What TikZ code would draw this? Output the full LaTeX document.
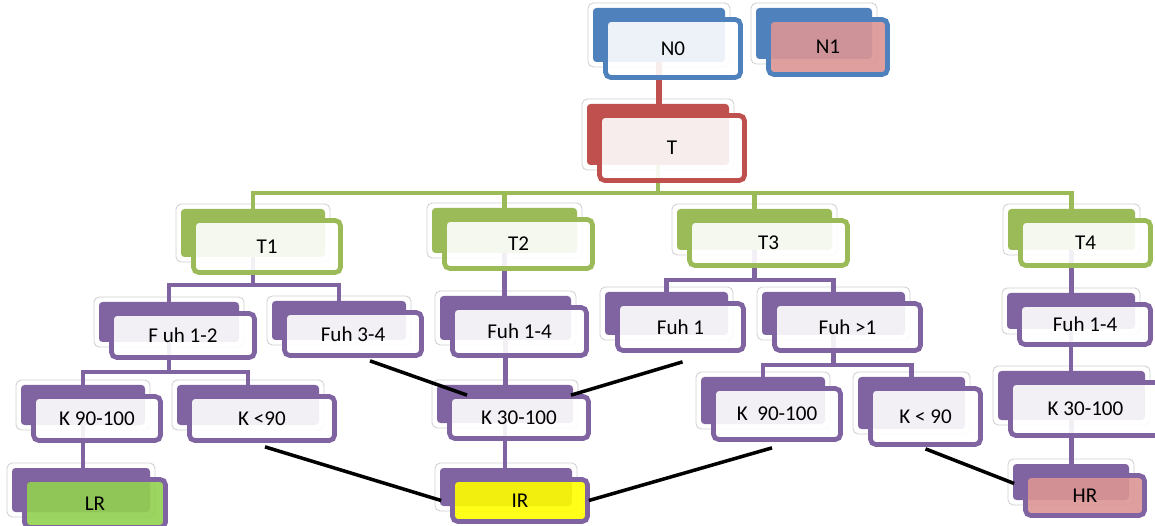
\documentclass[tikz,border=0pt]{standalone}
\usepackage{fontspec}
\setmainfont{Carlito}
\usetikzlibrary{calc}
\definecolor{cblue}{HTML}{4F81BD}
\definecolor{cred}{HTML}{C0504D}
\definecolor{cgreen}{HTML}{9BBB59}
\definecolor{cpurple}{HTML}{8064A2}
\definecolor{cpink}{HTML}{DC9594}
\definecolor{clime}{HTML}{92D050}
\definecolor{cyell}{HTML}{FFFF00}
\pgfdeclarelayer{outlayer}
\pgfdeclarelayer{connlayer}
\pgfsetlayers{outlayer,connlayer,main}
\tikzset{
  outlbox/.style={fill=white, draw=black!18, line width=0.5pt, rounded corners=3pt},
  backbox/.style={rectangle, rounded corners=2pt, inner sep=0pt, draw=none},
  frontbox/.style={rectangle, rounded corners=3pt, inner sep=0pt, line width=2.7pt,
    fill opacity=0.9, text opacity=1, font=\fontsize{12}{14}\selectfont, text=black},
  rconn/.style={draw=cred, line width=3.2pt},
  gconn/.style={draw=cgreen, line width=2.8pt},
  pconn/.style={draw=cpurple, line width=2.8pt},
  kline/.style={draw=black, line width=2pt},
}
% #1 name, #2 x1, #3 y1, #4 x2, #5 y2 (front box, pixels), #6 colour, #7 front fill, #8 text
\newcommand\dbox[8]{%
  \begin{pgfonlayer}{outlayer}
    \path[outlbox] ({#2-15},{#3-14}) rectangle ({#4-13},{#5-13});
  \end{pgfonlayer}
  \node[backbox, fill=#6, minimum width={(#4-#2-8)*0.02cm}, minimum height={(#5-#3-9)*0.02cm}]
    (#1b) at ({(#2+#4)/2-14},{(#3+#5)/2-13.5}) {};
  \node[frontbox, draw=#6, fill=#7, minimum width={(#4-#2-5)*0.02cm}, minimum height={(#5-#3-5)*0.02cm}]
    (#1) at ({(#2+#4)/2},{(#3+#5)/2}) {#8};
}
\begin{document}
\begin{tikzpicture}[x=0.02cm,y=-0.02cm]
\useasboundingbox (0,0) rectangle (1155,526);
\dbox{N0}{603}{17}{743}{80}{cblue}{white}{N0}
\dbox{N1}{766}{17}{890}{77}{cblue}{cpink}{N1}
\dbox{T}{597}{113}{747}{183}{cred}{white}{T}
\dbox{T1}{191}{218}{343}{275}{cgreen}{white}{T1}
\dbox{T2}{442}{217}{595}{271}{cgreen}{white}{T2}
\dbox{T3}{687}{218}{850}{268}{cgreen}{white}{T3}
\dbox{T4}{1018}{218}{1153}{268}{cgreen}{white}{T4}
\dbox{f12}{109}{311}{257}{360}{cpurple}{white}{F uh 1-2}
\dbox{f34}{282}{310}{424}{358}{cpurple}{white}{Fuh 3-4}
\dbox{f14a}{450}{305}{589}{358}{cpurple}{white}{Fuh 1-4}
\dbox{f1}{615}{301}{746}{353}{cpurple}{white}{Fuh 1}
\dbox{fg1}{772}{301}{923}{353}{cpurple}{white}{Fuh >1}
\dbox{f14b}{1017}{302}{1153}{347}{cpurple}{white}{Fuh 1-4}
\dbox{k9a}{31}{394}{163}{443}{cpurple}{white}{K 90-100}
\dbox{kl1}{187}{394}{337}{443}{cpurple}{white}{K <90}
\dbox{k30a}{447}{394}{591}{441}{cpurple}{white}{K 30-100}
\dbox{k9b}{711}{386}{843}{442}{cpurple}{white}{K~~90-100}
\dbox{kl3}{868}{386}{983}{447}{cpurple}{white}{K < 90}
\dbox{k30b}{1008}{380}{1163}{438}{cpurple}{white}{K 30-100}
\dbox{LR}{22}{477}{168}{530}{cpurple}{clime}{LR}
\dbox{IR}{450}{477}{590}{524}{cpurple}{cyell}{IR}
\dbox{HR}{1023}{473}{1147}{518}{cpurple}{cpink}{HR}
\coordinate (gbar) at (0,193);
\coordinate (pbarA) at (0,285);
\coordinate (pbarB) at (0,280);
\coordinate (pbarC) at (0,372);
\coordinate (pbarD) at (0,365);
\begin{pgfonlayer}{connlayer}
  \draw[rconn] (N0b.center) -- (N0b.center |- Tb.center);
  \foreach \c in {T1b,T2b,T3b,T4b}
    \draw[gconn] (Tb.center) |- (\c.center |- gbar) -- (\c.center);
  \foreach \c in {f12b,f34b}
    \draw[pconn] (T1b.center) |- (\c.center |- pbarA) -- (\c.center);
  \draw[pconn] (T2b.center) -- (T2b.center |- f14ab.center);
  \foreach \c in {f1b,fg1b}
    \draw[pconn] (T3b.center) |- (\c.center |- pbarB) -- (\c.center);
  \draw[pconn] (T4b.center) -- (T4b.center |- f14bb.center);
  \foreach \c in {k9ab,kl1b}
    \draw[pconn] (f12b.center) |- (\c.center |- pbarC) -- (\c.center);
  \draw[pconn] (f14ab.center) -- (f14ab.center |- k30ab.center);
  \foreach \c in {k9bb,kl3b}
    \draw[pconn] (fg1b.center) |- (\c.center |- pbarD) -- (\c.center);
  \draw[pconn] (f14bb.center) -- (f14bb.center |- k30bb.center);
  \draw[pconn] (k9ab.center) -- (k9ab.center |- LRb.center);
  \draw[pconn] (k30ab.center) -- (k30ab.center |- IRb.center);
  \draw[pconn] (k30bb.center) -- (k30bb.center |- HRb.center);
\end{pgfonlayer}
\draw[kline] ($(f34.south)+(17,3)$) -- ($(k30a.north)+(-52,1)$);
\draw[kline] ($(f1.south)+(2,9)$) -- ($(k30a.north)+(52,1)$);
\draw[kline] ($(kl1.south)+(3,4)$) -- ($(IR.west)+(-9,0)$);
\draw[kline] ($(k9b.south)+(-5,6)$) -- ($(IR.east)+(-1,0)$);
\draw[kline] ($(kl3.south)+(0,2)$) -- ($(HR.west)+(-9,-12)$);
\end{tikzpicture}
\end{document}
